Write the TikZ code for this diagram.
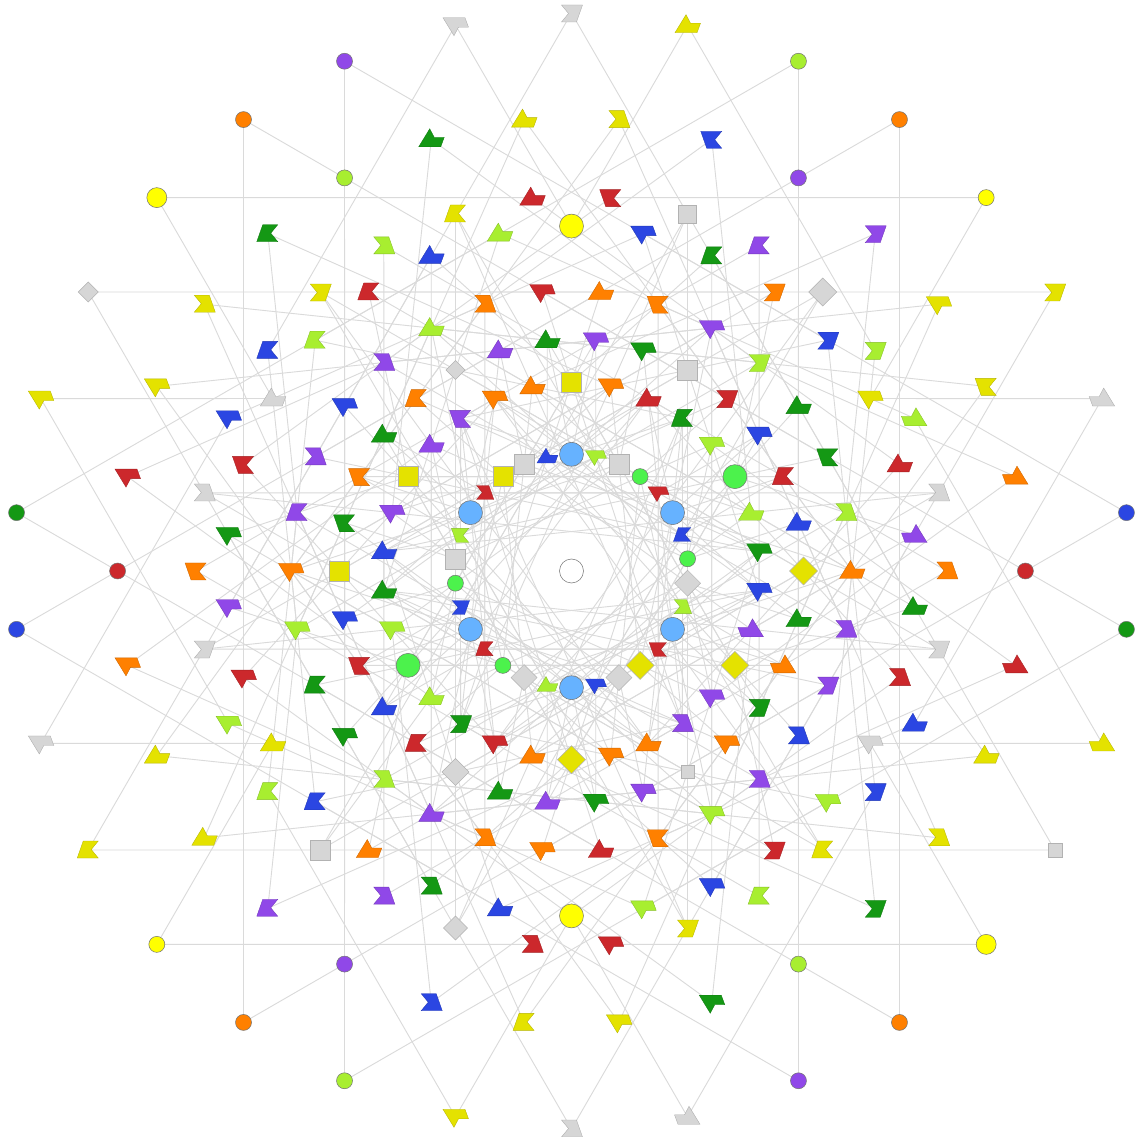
\documentclass[tikz,border=0pt]{standalone}
\definecolor{cY}{RGB}{228,226,0}
\definecolor{cYc}{RGB}{255,255,0}
\definecolor{cG}{RGB}{214,214,214}
\definecolor{cL}{RGB}{168,238,48}
\definecolor{cD}{RGB}{20,152,20}
\definecolor{cLG}{RGB}{76,242,76}
\definecolor{cB}{RGB}{43,70,226}
\definecolor{cLB}{RGB}{102,178,255}
\definecolor{cP}{RGB}{144,72,232}
\definecolor{cR}{RGB}{204,40,44}
\definecolor{cO}{RGB}{255,128,0}
\definecolor{cE}{RGB}{218,218,218}
\def\fs{1}
\newcommand\fP[4]{\filldraw[fill=#2,draw=#2!80!black,line width=.35pt,shift={(#1)},xscale=#3*\fs,yscale=#4*\fs] (-11,-8)--(10,-8)--(3,0.5)--(10,9)--(-5,9)--cycle;}
\newcommand\fT[4]{\filldraw[fill=#2,draw=#2!80!black,line width=.35pt,shift={(#1)},xscale=#3*\fs,yscale=#4*\fs] (-12.5,-7.5)--(9.5,-7.5)--(13,2)--(3,2)--(-1.5,10.5)--cycle;}
\newcommand\cI[3]{\filldraw[fill=#2,draw=black!55,line width=.5pt] (#1) circle[radius=#3pt];}
\newcommand\sQ[3]{\filldraw[fill=#2,draw=black!30,line width=.5pt,shift={(#1)}] (-#3,-#3) rectangle (#3,#3);}
\newcommand\dI[3]{\filldraw[fill=#2,draw=black!30,line width=.5pt,shift={(#1)}] (0,#3)--(#3,0)--(0,-#3)--(-#3,0)--cycle;}
\begin{document}
\begin{tikzpicture}[x=1pt,y=1pt,edge/.style={draw=cE,line width=0.9pt}]
\fill[white] (-571.5,-566) rectangle (564.5,571);
\useasboundingbox (-571.5,-566) rectangle (564.5,571);
% ring positions (E8 Petrie projection: 8 rings of 30)
\foreach \t in {0,...,29}{
  \pgfmathtruncatemacro\ga{6+12*\t}
  \pgfmathtruncatemacro\gb{12*\t}
  \coordinate (r8-\ga) at (\ga:558);
  \coordinate (r5-\ga) at (\ga:344.9);
  \coordinate (r2-\ga) at (\ga:188.7);
  \coordinate (r1-\ga) at (\ga:116.7);
  \coordinate (r7-\gb) at (\gb:453.9);
  \coordinate (r6-\gb) at (\gb:375.4);
  \coordinate (r4-\gb) at (\gb:280.5);
  \coordinate (r3-\gb) at (\gb:232);
}
\coordinate (c0) at (0,0);
% connectors, repeated with the picture's six-fold dihedral symmetry
\foreach \ra/\ta/\rb/\tb in {8/6/7/0, 8/6/5/78, 8/18/6/336, 8/18/5/30, 8/30/6/12,
  7/0/4/96, 7/12/4/48, 7/12/2/318, 7/24/4/120, 7/24/4/288,
  6/12/5/294, 6/0/2/66, 6/24/4/72, 4/0/5/126, 4/12/1/258, 2/30/3/156,
  6/12/2/174, 5/6/2/30, 5/18/4/60, 5/18/2/294,
  1/30/3/24, 1/30/2/66, 1/6/3/12, 1/6/2/42, 1/18/2/54, 1/18/3/24,
  3/0/6/228, 6/12/1/138, 1/6/4/120, 2/6/3/132, 1/6/2/138, 2/6/4/156}{
  \foreach \m in {0,...,5}{
    \pgfmathtruncatemacro\ua{mod(\ta+60*\m,360)}
    \pgfmathtruncatemacro\ub{mod(\tb+60*\m,360)}
    \pgfmathtruncatemacro\va{mod(720-\ta+60*\m,360)}
    \pgfmathtruncatemacro\vb{mod(720-\tb+60*\m,360)}
    \draw[edge] (r\ra-\ua) -- (r\rb-\ub);
    \draw[edge] (r\ra-\va) -- (r\rb-\vb);
  }
}
% flags, notched type
\foreach \n/\c/\sx/\sy in {r8-30/cY/-1/-1, r8-90/cG/-1/-1, r8-210/cY/1/1, r8-270/cG/-1/1,
 r7-24/cY/1/-1, r7-48/cP/-1/-1, r7-72/cB/1/-1, r7-84/cY/-1/1, r7-132/cD/1/1, r7-144/cY/-1/1, r7-228/cP/1/1, r7-252/cB/-1/1, r7-264/cY/1/1, r7-312/cD/-1/-1, r7-324/cY/-1/1,
 r6-0/cO/-1/1, r6-12/cG/-1/1, r6-36/cL/-1/-1, r6-60/cP/1/1, r6-84/cR/1/-1, r6-108/cY/1/1, r6-120/cL/-1/1, r6-132/cY/-1/-1, r6-144/cB/1/1, r6-168/cG/-1/1, r6-180/cO/1/-1, r6-192/cG/-1/-1, r6-216/cL/1/1, r6-240/cP/-1/1, r6-264/cR/-1/1, r6-288/cY/-1/-1, r6-300/cL/1/1, r6-312/cY/1/1, r6-324/cB/-1/-1, r6-348/cG/-1/-1,
 r5-42/cB/-1/-1, r5-54/cO/-1/-1, r5-66/cD/1/1, r5-126/cR/1/1, r5-138/cL/1/1, r5-162/cR/1/-1, r5-222/cB/1/1, r5-246/cD/-1/1, r5-306/cR/-1/-1, r5-342/cR/-1/1,
 r4-12/cL/-1/1, r4-24/cD/1/-1, r4-48/cL/-1/-1, r4-72/cO/1/-1, r4-108/cO/-1/1, r4-132/cP/-1/1, r4-156/cP/-1/1, r4-168/cP/1/1, r4-204/cD/1/1, r4-228/cL/-1/1, r4-252/cO/-1/1, r4-288/cO/1/-1, r4-312/cP/-1/1, r4-324/cB/-1/1, r4-336/cP/-1/-1, r4-348/cP/-1/1,
 r3-24/cR/1/1, r3-48/cR/-1/-1, r3-132/cO/1/1, r3-156/cO/1/-1, r3-168/cD/1/-1, r3-204/cR/1/-1, r3-228/cR/1/1, r3-324/cD/-1/-1,
 r2-54/cD/1/1, r2-126/cP/1/-1, r2-234/cD/-1/-1, r2-306/cP/-1/1}{\fP{\n}{\c}{\sx}{\sy}}
% flags, peaked type
\foreach \n/\c/\sx/\sy in {r8-18/cG/-1/1, r8-78/cY/1/1, r8-102/cG/1/-1, r8-162/cY/1/-1, r8-198/cG/1/-1, r8-258/cY/1/-1, r8-282/cG/-1/1, r8-342/cY/-1/1,
 r7-12/cO/-1/1, r7-36/cY/1/-1, r7-96/cY/1/1, r7-108/cD/1/1, r7-156/cY/1/-1, r7-168/cR/1/-1, r7-192/cO/1/-1, r7-204/cY/1/1, r7-216/cY/1/1, r7-276/cY/1/-1, r7-288/cD/1/-1, r7-336/cY/1/1, r7-348/cR/-1/1,
 r6-24/cL/-1/1, r6-96/cR/1/1, r6-156/cB/1/-1, r6-204/cL/1/-1, r6-276/cR/1/-1, r6-336/cB/1/1,
 r5-6/cP/-1/1, r5-18/cR/1/1, r5-30/cY/1/-1, r5-78/cB/1/-1, r5-102/cL/1/1, r5-114/cB/1/1, r5-150/cG/1/1, r5-174/cD/1/-1, r5-186/cP/1/-1, r5-198/cR/1/-1, r5-210/cY/1/1, r5-234/cO/1/1, r5-258/cB/1/1, r5-282/cL/1/-1, r5-294/cB/1/-1, r5-318/cL/1/-1, r5-330/cG/1/-1, r5-354/cD/1/1,
 r4-0/cO/1/1, r4-36/cD/1/1, r4-60/cP/1/-1, r4-84/cO/1/1, r4-96/cR/1/-1, r4-120/cL/1/1, r4-144/cB/1/-1, r4-180/cO/1/-1, r4-192/cL/1/-1, r4-216/cD/1/-1, r4-240/cP/1/1, r4-264/cO/1/-1, r4-276/cR/1/1, r4-300/cL/1/-1,
 r3-12/cB/1/1, r3-36/cB/1/-1, r3-72/cD/1/-1, r3-84/cP/1/-1, r3-96/cD/1/1, r3-108/cP/1/1, r3-144/cD/1/1, r3-192/cB/1/-1, r3-216/cB/1/1, r3-252/cD/1/1, r3-264/cP/1/1, r3-276/cD/1/-1, r3-288/cP/1/-1, r3-312/cO/1/-1, r3-336/cO/-1/1, r3-348/cD/1/1,
 r2-6/cD/1/-1, r2-18/cL/1/1, r2-42/cL/1/-1, r2-66/cR/1/1, r2-78/cO/1/-1, r2-102/cO/1/1, r2-114/cO/1/-1, r2-138/cP/1/1, r2-162/cP/1/-1, r2-174/cB/1/1, r2-186/cD/1/1, r2-198/cL/1/-1, r2-222/cL/1/1, r2-246/cR/1/-1, r2-258/cO/1/1, r2-282/cO/1/-1, r2-294/cO/1/1, r2-318/cP/1/-1, r2-342/cP/-1/1, r2-354/cB/1/-1}{\fT{\n}{\c}{\sx}{\sy}}
% inner ring flags, smaller
\def\fs{0.82}
\foreach \n/\c/\sx/\sy in {r1-18/cB/1/1, r1-138/cR/-1/1, r1-162/cL/1/-1, r1-198/cB/-1/-1, r1-222/cR/1/1, r1-318/cR/1/-1, r1-342/cL/-1/1}{\fP{\n}{\c}{\sx}{\sy}}
\foreach \n/\c/\sx/\sy in {r1-42/cR/1/-1, r1-78/cL/1/-1, r1-102/cB/1/1, r1-258/cL/1/1, r1-282/cB/1/-1}{\fT{\n}{\c}{\sx}{\sy}}
\def\fs{1}
% circles
\foreach \n/\c/\r in {r8-6/cB/8, r8-42/cYc/8, r8-54/cO/8, r8-66/cL/8, r8-114/cP/8, r8-126/cO/8, r8-138/cYc/10, r8-174/cD/8, r8-186/cB/8, r8-222/cYc/8, r8-234/cO/8, r8-246/cL/8, r8-294/cP/8, r8-306/cO/8, r8-318/cYc/10, r8-354/cD/8,
 r7-0/cR/8, r7-60/cP/8, r7-120/cL/8, r7-180/cR/8, r7-240/cP/8, r7-300/cL/8,
 r5-90/cYc/12, r5-270/cYc/12, r2-30/cLG/12, r2-210/cLG/12,
 r1-6/cLG/8, r1-54/cLG/8, r1-186/cLG/8, r1-234/cLG/8,
 r1-30/cLB/12, r1-90/cLB/12, r1-150/cLB/12, r1-210/cLB/12, r1-270/cLB/12, r1-330/cLB/12, c0/white/12}{\cI{\n}{\c}{\r}}
% squares
\foreach \n/\c/\r in {r8-330/cG/7, r6-72/cG/9, r6-228/cG/10, r3-60/cG/10, r3-180/cY/10, r3-300/cG/6.5, r2-90/cY/10, r2-150/cY/10, r1-66/cG/10, r1-114/cG/10, r1-126/cY/10, r1-174/cG/10}{\sQ{\n}{\c}{\r}}
% diamonds
\foreach \n/\c/\r in {r8-150/cG/10, r6-48/cG/14, r6-252/cG/12, r3-0/cY/14, r3-120/cG/9.5, r3-240/cG/13.5, r2-270/cY/14, r2-330/cY/14, r1-246/cG/13, r1-294/cG/13, r1-306/cY/14, r1-354/cG/13}{\dI{\n}{\c}{\r}}
\end{tikzpicture}
\end{document}
